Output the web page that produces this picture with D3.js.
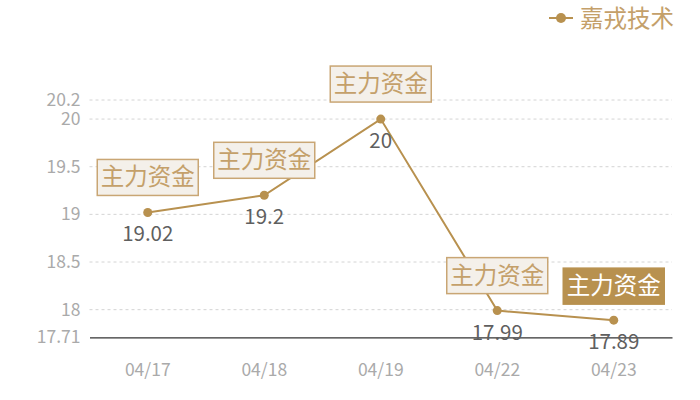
<!DOCTYPE html>
<html><head><meta charset="utf-8">
<script src="https://cdn.jsdelivr.net/npm/d3@7/dist/d3.min.js"></script>
<style>body{margin:0;background:#fff}svg{display:block}text{font-family:"Noto Sans CJK SC","Noto Sans",sans-serif}</style>
</head><body><svg id="c" width="700" height="400"></svg>
<script>
const categories = ["04/17","04/18","04/19","04/22","04/23"];
const values = [19.02, 19.2, 20, 17.99, 17.89];
const seriesName = "嘉戎技术";
const tickValues = [17.71, 18, 18.5, 19, 19.5, 20, 20.2];
const annoText = "主力资金";

const gold = "#b8914f";
const svg = d3.select("#c");
const x = d3.scaleBand().domain(categories).range([89.5, 672]);
const y = d3.scaleLinear().domain([17.71, 20.2]).range([337.3, 100]);
const cx = d => x(d) + x.bandwidth()/2;

// grid
svg.append("g").selectAll("line").data(tickValues.slice(1)).join("line")
  .attr("x1", 89.5).attr("x2", 672).attr("y1", d=>y(d)).attr("y2", d=>y(d))
  .attr("stroke", "#d4d4d4").attr("stroke-dasharray", "3,3").attr("stroke-width", 1);

// y axis
const ya = svg.append("g").attr("transform","translate(89.5,0)")
  .call(d3.axisLeft(y).tickValues(tickValues).tickSize(0).tickPadding(9).tickFormat(d=>String(d)));
ya.select(".domain").remove();
ya.selectAll("text").attr("fill","#aaaaaa").attr("font-size",17.5).style("font-family",'"Noto Sans CJK SC",sans-serif');

// x axis
const xa = svg.append("g").attr("transform","translate(0,337.3)")
  .call(d3.axisBottom(x).tickSize(0).tickPadding(26));
xa.select(".domain").attr("stroke","#333").attr("stroke-width",1.2);
xa.selectAll("text").attr("fill","#aaaaaa").attr("font-size",17.5).style("font-family",'"Noto Sans CJK SC",sans-serif');

const data = categories.map((c,i)=>({c, v: values[i], i}));

// line
svg.append("path").datum(data)
  .attr("d", d3.line().x(d=>cx(d.c)).y(d=>y(d.v)))
  .attr("fill","none").attr("stroke",gold).attr("stroke-width",2);

svg.append("g").selectAll("circle").data(data).join("circle")
  .attr("cx", d=>cx(d.c)).attr("cy", d=>y(d.v)).attr("r",4.5).attr("fill",gold);

// value labels
svg.append("g").selectAll("text").data(data).join("text")
  .attr("x", d=>cx(d.c)).attr("y", d=>y(d.v)+29)
  .attr("text-anchor","middle").attr("fill","#5f5f5f").attr("font-size",20.5)
  .text(d=>String(d.v));

// annotations
const ann = svg.append("g").selectAll("g").data(data).join("g")
  .attr("transform", d=>`translate(${cx(d.c)},${y(d.v)})`);
ann.append("rect")
  .attr("x",-50.5).attr("width",101).attr("height",36)
  .attr("y", d=> d.i===data.length-1 ? -52 : -53)
  .attr("fill", d=> d.i===data.length-1 ? gold : "#f4f0ea")
  .attr("stroke", d=> d.i===data.length-1 ? gold : "#c9a674").attr("stroke-width",1.5);
ann.append("text")
  .attr("text-anchor","middle").attr("y", d=> d.i===data.length-1 ? -26 : -27)
  .attr("font-size",23.5)
  .attr("fill", d=> d.i===data.length-1 ? "#ffffff" : "#c4a06a")
  .text(annoText);

// legend
const lg = svg.append("g").attr("transform","translate(549,18)");
lg.append("line").attr("x1",0).attr("x2",24).attr("stroke",gold).attr("stroke-width",2);
lg.append("circle").attr("cx",12).attr("r",5).attr("fill",gold);
lg.append("text").attr("x",31).attr("y",8.5).attr("font-size",23.5).attr("fill","#c4a06a").text(seriesName);
</script></body></html>
